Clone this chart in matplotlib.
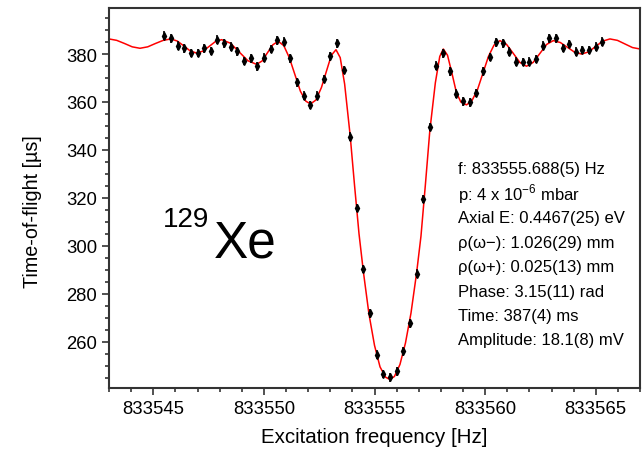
import numpy as np
import matplotlib
matplotlib.use('Agg')
import matplotlib.pyplot as plt
from matplotlib.ticker import MultipleLocator

plt.rcParams['font.family'] = ['Liberation Sans', 'DejaVu Sans']
plt.rcParams['mathtext.fontset'] = 'custom'
plt.rcParams['mathtext.rm'] = 'Liberation Sans'

# measured time-of-flight points (scan steps of 0.3 Hz)
freq = [833545.5, 833545.8, 833546.1, 833546.4, 833546.7, 833547.0, 833547.3,
        833547.6, 833547.9, 833548.2, 833548.5, 833548.8, 833549.1, 833549.4,
        833549.7, 833550.0, 833550.3, 833550.6, 833550.9, 833551.2, 833551.5,
        833551.8, 833552.1, 833552.4, 833552.7, 833553.0, 833553.3, 833553.6,
        833553.9, 833554.2, 833554.5, 833554.8, 833555.1, 833555.4, 833555.7,
        833556.0, 833556.3, 833556.6, 833556.9, 833557.2, 833557.5, 833557.8,
        833558.1, 833558.4, 833558.7, 833559.0, 833559.3, 833559.6, 833559.9,
        833560.2, 833560.5, 833560.8, 833561.1, 833561.4, 833561.7, 833562.0,
        833562.3, 833562.6, 833562.9, 833563.2, 833563.5, 833563.8, 833564.1,
        833564.4, 833564.7, 833565.0, 833565.3]
tof = [387.6, 386.6, 383.5, 382.4, 380.4, 380.4, 382.4, 381.3, 386.0, 384.5,
       383.1, 381.1, 377.1, 378.2, 374.9, 378.5, 382.1, 385.7, 385.1, 378.2,
       368.2, 362.6, 358.7, 362.6, 369.6, 379.1, 384.5, 373.3, 345.5, 315.8,
       290.3, 271.9, 254.6, 246.5, 245.2, 247.7, 256.0, 267.7, 288.4, 319.5,
       349.6, 375.1, 380.3, 372.8, 363.5, 360.3, 359.9, 363.7, 372.8, 378.8,
       384.9, 384.5, 381.0, 376.8, 376.6, 376.8, 377.9, 383.5, 386.6, 386.6,
       382.5, 384.2, 381.0, 381.7, 381.7, 383.1, 385.1]
tof_err = 1.8

# fitted line shape
fit_f = [833543.0, 833543.35, 833543.7, 833544.05, 833544.4, 833544.75, 833545.1,
         833545.45, 833545.8, 833546.09, 833546.38, 833546.67, 833546.96, 833547.24,
         833547.53, 833547.81, 833548.09, 833548.49, 833548.88, 833549.28, 833549.67,
         833549.92, 833550.16, 833550.41, 833550.65, 833550.9, 833551.15, 833551.4,
         833551.65, 833551.9, 833552.11, 833552.35, 833552.6, 833552.85, 833553.05,
         833553.26, 833553.45, 833553.65, 833553.9, 833554.1, 833554.3, 833554.5,
         833554.75, 833555.0, 833555.25, 833555.5, 833555.69, 833555.9, 833556.15,
         833556.4, 833556.65, 833556.9, 833557.1, 833557.3, 833557.5, 833557.75,
         833557.95, 833558.11, 833558.3, 833558.5, 833558.7, 833558.9, 833559.16,
         833559.4, 833559.65, 833559.9, 833560.15, 833560.4, 833560.67, 833560.97,
         833561.27, 833561.57, 833561.87, 833562.17, 833562.48, 833562.78, 833563.08,
         833563.4, 833563.72, 833564.04, 833564.36, 833564.68, 833565.0, 833565.32,
         833565.64, 833565.98, 833566.32, 833566.66, 833567.0]
fit_t = [386.3, 385.7, 384.4, 383.0, 382.4, 383.0, 384.4,
         385.7, 386.3, 385.4, 383.4, 381.3, 380.4, 381.2,
         383.2, 385.2, 386.0, 384.5, 380.9, 377.2, 375.7,
         377.1, 380.5, 383.9, 385.3, 383.5, 378.5, 371.5,
         364.5, 360.3, 359.2, 360.8, 366.0, 373.5, 379.5,
         381.8, 378.5, 367.5, 346.0, 325.0, 305.0, 289.0,
         271.5, 258.5, 249.5, 245.2, 244.3, 245.5, 250.5,
         259.5, 272.0, 288.5, 304.0, 325.5, 348.0, 368.0,
         379.0, 382.1, 379.5, 372.0, 364.0, 360.0, 358.8,
         360.5, 365.0, 372.0, 379.0, 383.7, 385.6, 384.0,
         380.3, 376.5, 374.9, 376.5, 380.3, 384.0, 385.6,
         384.8, 382.8, 380.8, 380.0, 380.9, 383.2, 385.4,
         386.3, 385.7, 384.2, 382.7, 382.1]

params = ['f: 833555.688(5) Hz',
          'p: 4 x 10$^{\\mathregular{-6}}$ mbar',
          'Axial E: 0.4467(25) eV',
          '\u03c1(\u03c9\u2212): 1.026(29) mm',
          '\u03c1(\u03c9+): 0.025(13) mm',
          'Phase: 3.15(11) rad',
          'Time: 387(4) ms',
          'Amplitude: 18.1(8) mV']

W, H = 642, 460
fig = plt.figure(figsize=(W / 100, H / 100), dpi=100)
ax = fig.add_axes([109 / W, 1 - 389 / H, 531 / W, 380 / H])

ax.plot(fit_f, fit_t, color='red', lw=1.1, zorder=2)
ax.errorbar(freq, tof, yerr=tof_err, fmt='d', color='black', ms=4.2,
            elinewidth=1.2, capsize=0, zorder=3)

ax.set_xlim(833543, 833567)
ax.set_ylim(240.7, 399.2)
ax.xaxis.set_major_locator(MultipleLocator(5))
ax.xaxis.set_minor_locator(MultipleLocator(1))
ax.yaxis.set_major_locator(MultipleLocator(20))
ax.yaxis.set_minor_locator(MultipleLocator(5))
ax.ticklabel_format(useOffset=False, style='plain', axis='x')
ax.tick_params(which='both', direction='out', top=False, right=False,
               color='#333333', width=1.2, labelsize=13.3)
ax.tick_params(which='major', length=5)
ax.tick_params(which='minor', length=3)
for s in ax.spines.values():
    s.set_color('#333333')
    s.set_linewidth(1.5)

ax.set_xlabel('Excitation frequency [Hz]', fontsize=14.8)
ax.xaxis.set_label_coords(0.499, -0.103)
ax.set_ylabel('Time-of-flight [\u00b5s]', fontsize=14.2)
ax.yaxis.set_label_coords(-0.127, 0.467)

# isotope label
fig.text(163 / W, 1 - 227 / H, '129', fontsize=20, va='baseline')
fig.text(214 / W, 1 - 257 / H, 'Xe', fontsize=37, va='baseline')

for i, s in enumerate(params):
    fig.text(458 / W, 1 - (170 + 24.4 * i) / H, s, fontsize=12, va='center')

fig.savefig('out.png', dpi=100)
